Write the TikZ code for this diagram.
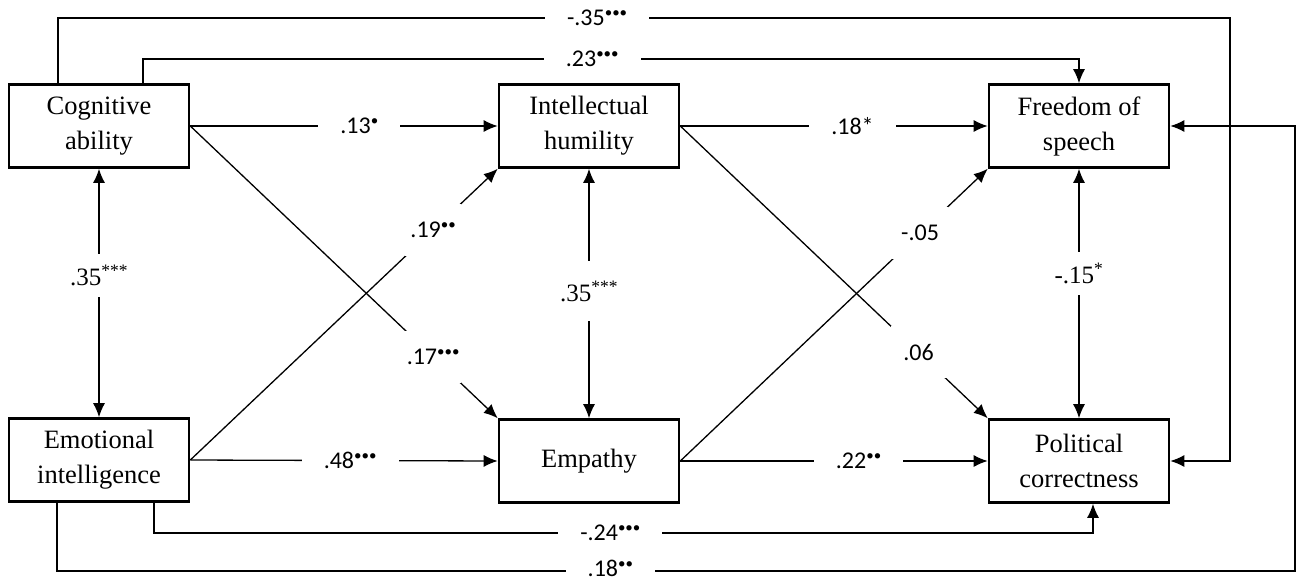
\documentclass[tikz,border=0pt]{standalone}
\usepackage{fontspec}
\setmainfont{Liberation Serif}
\newfontfamily\carlito{Carlito}
\usetikzlibrary{arrows.meta}
\newcommand\sigdots[1]{\raisebox{8pt}{\fontsize{15}{15}\selectfont #1}}
\begin{document}
\begin{tikzpicture}[x=1pt,y=-1pt,
 box/.style={draw, line width=2.6pt, minimum width=180pt, minimum height=83pt, align=center, font=\fontsize{26.5}{35}\selectfont, inner sep=0pt},
 conn/.style={line width=1.3pt},
 arr/.style={conn, -{Latex[length=14pt,width=12pt]}},
 dbl/.style={conn, {Latex[length=14pt,width=12pt]}-{Latex[length=14pt,width=12pt]}},
 lbl/.style={fill=white, font=\carlito\fontsize{24}{28}\selectfont, inner xsep=22pt, inner ysep=2pt},
 vlbl/.style={fill=white, font=\fontsize{25}{28}\selectfont, inner xsep=2pt, inner ysep=11pt},
 dlbl/.style={fill=white, font=\carlito\fontsize{24}{28}\selectfont, minimum width=56pt, minimum height=52pt, inner sep=0pt}]
\useasboundingbox (0,0) rectangle (1297,582);

\node[box] (ca)  at (99,126)  {Cognitive\\ability};
\node[box] (ih)  at (589,126) {Intellectual\\humility};
\node[box] (fs)  at (1079,126) {Freedom of\\speech};
\node[box] (ei)  at (99,460)  {Emotional\\intelligence};
\node[box] (emp) at (589,461) {\raisebox{6pt}{Empathy}};
\node[box] (pc)  at (1079,461) {Political\\correctness};

% horizontal paths
\draw[arr] (ca.east) -- node[lbl,pos=.55]{.13\sigdots{•}} (ih.west);
\draw[arr] (ih.east) -- node[lbl,pos=.56]{.18*} (fs.west);
\draw[arr] (ei.east) -- node[lbl,pos=.52]{.48\sigdots{•••}} (emp.west);
\draw[arr] (emp.east) -- node[lbl,pos=.58]{.22\sigdots{••}} (pc.west);

% diagonal paths
\draw[arr] (ca.east) -- node[dlbl,pos=.79]{.17\sigdots{•••}} (emp.north west);
\draw[arr] (ei.east) -- node[dlbl,pos=.79]{.19\sigdots{••}} (ih.south west);
\draw[arr] (ih.east) -- node[dlbl,pos=.775]{.06} (pc.north west);
\draw[arr] (emp.east) -- node[dlbl,pos=.78]{-.05} (fs.south west);

% vertical correlations
\draw[dbl] (ca.south) -- node[vlbl,pos=.43]{.35\textsuperscript{***}} (ei.north);
\draw[dbl] (ih.south) -- node[vlbl,pos=.49,inner ysep=20pt]{.35\textsuperscript{***}} (emp.north);
\draw[dbl] (fs.south) -- node[vlbl,pos=.42]{-.15\textsuperscript{*}} (pc.north);

% long paths
\coordinate (t1) at (58,18);
\coordinate (t2) at (1230,18);
\draw[arr] (ca.north -| t1) -- (t1) -- node[lbl,pos=.46]{-.35\sigdots{•••}} (t2) |- (pc.east);

\coordinate (u1) at (143,59);
\coordinate (u2) at (1079,59);
\draw[arr] (ca.north -| u1) -- (u1) -- node[lbl,pos=.48]{.23\sigdots{•••}} (u2) -- (fs.north);

\coordinate (b1) at (154,533);
\coordinate (b2) at (1093,533);
\draw[arr] (ei.south -| b1) -- (b1) -- node[lbl,pos=.486]{-.24\sigdots{•••}} (b2) -- (pc.south -| b2);

\coordinate (c1) at (57,571);
\coordinate (c2) at (1295,571);
\draw[arr] (ei.south -| c1) -- (c1) -- node[lbl,pos=.447,yshift=3pt]{.18\sigdots{••}} (c2) |- (fs.east);
\end{tikzpicture}
\end{document}
